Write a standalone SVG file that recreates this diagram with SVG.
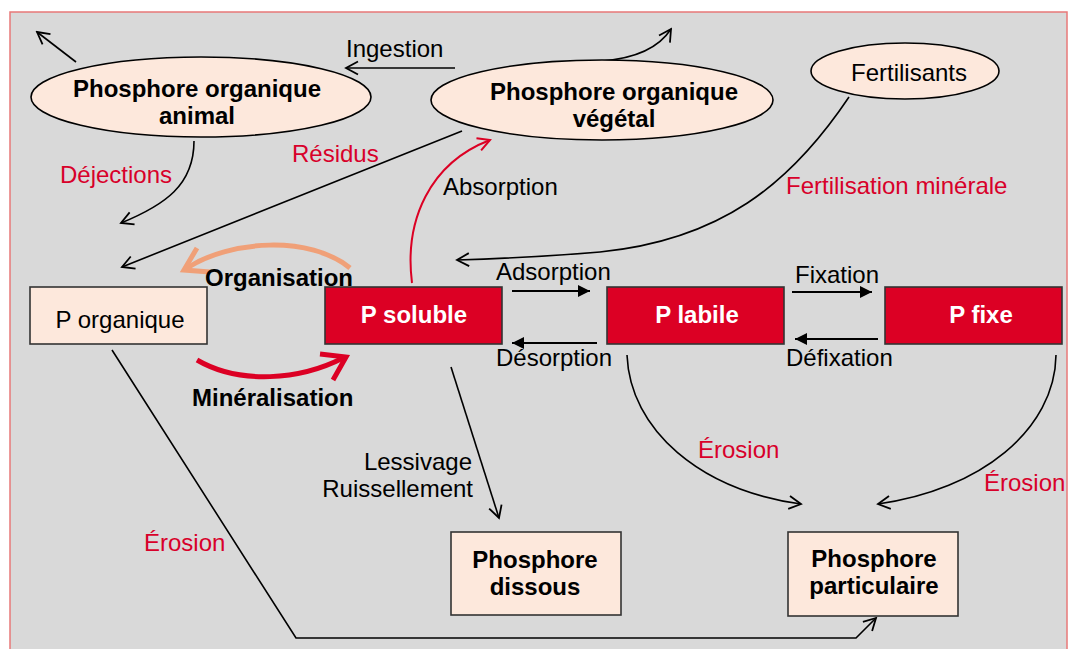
<svg xmlns="http://www.w3.org/2000/svg" width="1069" height="649" viewBox="0 0 1069 649">
<style>
text{font-family:"Liberation Sans",Arial,sans-serif;font-size:24px}
.b{font-weight:bold}
.r{fill:#d8002a}
.w{fill:#fff;font-weight:bold}
.c{text-anchor:middle}
.e{text-anchor:end}
.nodeE{fill:#fde8dc;stroke:#000;stroke-width:1.6}
.nodeB{fill:#fde8dc;stroke:#333;stroke-width:1.6}
.nodeR{fill:#dc0024;stroke:#333;stroke-width:1.6}
.ln{fill:none;stroke:#000;stroke-width:1.6}
.lnf{fill:none;stroke:#000;stroke-width:1.8}
</style>
<defs>
<marker id="open" markerUnits="userSpaceOnUse" markerWidth="16" markerHeight="16" viewBox="0 0 16 16" refX="14" refY="8" orient="auto">
<path d="M2,1.5 L14,8 L2,14.5" fill="none" stroke="#000" stroke-width="1.8"/>
</marker>
<marker id="openR" markerUnits="userSpaceOnUse" markerWidth="16" markerHeight="16" viewBox="0 0 16 16" refX="14" refY="8" orient="auto">
<path d="M2,1.5 L14,8 L2,14.5" fill="none" stroke="#dc0024" stroke-width="2"/>
</marker>
<marker id="fill" markerUnits="userSpaceOnUse" markerWidth="14" markerHeight="14" viewBox="0 0 14 14" refX="13" refY="7" orient="auto">
<path d="M1,1 L13,7 L1,13 Z" fill="#000"/>
</marker>
</defs>
<rect x="10" y="12" width="1057" height="645" fill="#d9d9d9" stroke="#e87878" stroke-width="1.5"/>

<g id="connectors">
<path class="ln" d="M76,62 L37,32" marker-end="url(#open)"/>
<path class="ln" d="M455,68 L346,68" marker-end="url(#open)"/>
<path class="ln" d="M602,61 C640,58 660,46 671,29" marker-end="url(#open)"/>
<path class="ln" d="M194,141 C194,185 165,205 121,223" marker-end="url(#open)"/>
<path class="ln" d="M462,131 L122,267" marker-end="url(#open)"/>
<path d="M412,283 C404,220 430,163 490,140" fill="none" stroke="#dc0024" stroke-width="2" marker-end="url(#openR)"/>
<path class="ln" d="M849,97 C790,185 720,240 600,252 C540,257 490,259 457,260" marker-end="url(#open)"/>
<path d="M350,268 C310,235 230,240 187,268" fill="none" stroke="#f0a078" stroke-width="5"/>
<path d="M197,248 L184,270 L210,272" fill="none" stroke="#f0a078" stroke-width="5"/>
<path d="M197,360 C240,385 300,380 343,358" fill="none" stroke="#dc0024" stroke-width="5"/>
<path d="M320,354 L346,357 L333,380" fill="none" stroke="#dc0024" stroke-width="5"/>
<path class="lnf" d="M512,291 L590,291" marker-end="url(#fill)"/>
<path class="lnf" d="M597,343 L512,343" marker-end="url(#fill)"/>
<path class="lnf" d="M792,292 L872,292" marker-end="url(#fill)"/>
<path class="lnf" d="M878,339 L795,339" marker-end="url(#fill)"/>
<path class="ln" d="M451,367 L499,518" marker-end="url(#open)"/>
<path class="ln" d="M112,350 L296,638 L856,638 L876,618" marker-end="url(#open)"/>
<path class="ln" d="M627,355 C630,430 700,490 801,504" marker-end="url(#open)"/>
<path class="ln" d="M1056,355 C1055,430 980,490 878,504" marker-end="url(#open)"/>
</g>

<g id="labels">
<text x="346" y="57">Ingestion</text>
<text x="60" y="183" class="r">Déjections</text>
<text x="292" y="162" class="r">Résidus</text>
<text x="443" y="195">Absorption</text>
<text x="786" y="194" class="r">Fertilisation minérale</text>
<text x="205" y="286" class="b">Organisation</text>
<text x="496" y="280">Adsorption</text>
<text x="795" y="283">Fixation</text>
<text x="496" y="366">Désorption</text>
<text x="786" y="366">Défixation</text>
<text x="192" y="406" class="b">Minéralisation</text>
<text x="472" y="470" class="e">Lessivage</text>
<text x="473" y="497" class="e">Ruissellement</text>
<text x="144" y="551" class="r">Érosion</text>
<text x="698" y="458" class="r">Érosion</text>
<text x="984" y="491" class="r">Érosion</text>
</g>

<g id="n-animal">
<ellipse class="nodeE" cx="201" cy="97" rx="170" ry="40"/>
<text x="197" y="97" class="b c">Phosphore organique</text>
<text x="197" y="124" class="b c">animal</text>
</g>
<g id="n-vegetal">
<ellipse class="nodeE" cx="602" cy="100" rx="171" ry="40"/>
<text x="614" y="100" class="b c">Phosphore organique</text>
<text x="614" y="127" class="b c">végétal</text>
</g>
<g id="n-fertilisants">
<ellipse class="nodeE" cx="905" cy="71" rx="94" ry="28"/>
<text x="909" y="81" class="c">Fertilisants</text>
</g>
<g id="n-porganique">
<rect class="nodeB" x="30" y="287" width="177" height="57"/>
<text x="120" y="328" class="c">P organique</text>
</g>
<g id="n-psoluble">
<rect class="nodeR" x="325" y="287" width="177" height="57"/>
<text x="414" y="323" class="w c">P soluble</text>
</g>
<g id="n-plabile">
<rect class="nodeR" x="607" y="287" width="177" height="57"/>
<text x="697" y="323" class="w c">P labile</text>
</g>
<g id="n-pfixe">
<rect class="nodeR" x="885" y="287" width="177" height="57"/>
<text x="981" y="323" class="w c">P fixe</text>
</g>
<g id="n-dissous">
<rect class="nodeB" x="451" y="532" width="170" height="83"/>
<text x="535" y="568" class="b c">Phosphore</text>
<text x="535" y="595" class="b c">dissous</text>
</g>
<g id="n-particulaire">
<rect class="nodeB" x="788" y="532" width="170" height="84"/>
<text x="874" y="567" class="b c">Phosphore</text>
<text x="874" y="594" class="b c">particulaire</text>
</g>
</svg>
